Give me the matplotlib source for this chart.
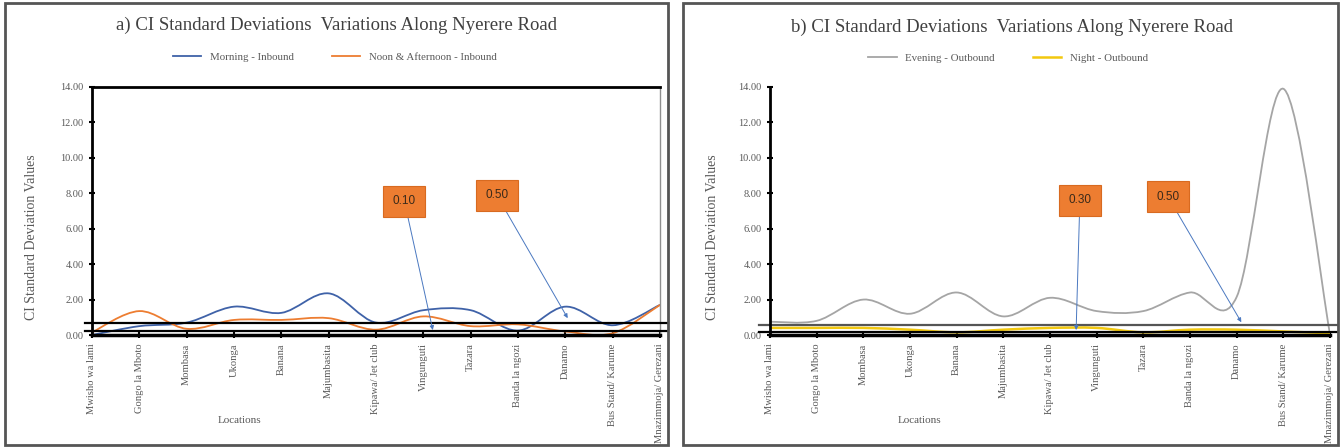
import numpy as np
import matplotlib
matplotlib.use('Agg')
import matplotlib.pyplot as plt
from matplotlib.path import Path
from matplotlib.patches import PathPatch, Rectangle
from matplotlib.lines import Line2D

plt.rcParams['font.family'] = ['Liberation Serif', 'DejaVu Serif']

# Data
locations = ['Mwisho wa lami', 'Gongo la Mboto', 'Mombasa', 'Ukonga', 'Banana',
             'Majumbasita', 'Kipawa/ Jet club', 'Vingunguti', 'Tazara',
             'Banda la ngozi', 'Danamo', 'Bus Stand/ Karume', 'Mnazimmoja/ Gerezani']
morning_in = [0.0, 0.5, 0.7, 1.6, 1.25, 2.35, 0.7, 1.4, 1.4, 0.25, 1.6, 0.55, 1.7]
noon_in = [0.15, 1.35, 0.35, 0.85, 0.85, 0.95, 0.3, 1.05, 0.5, 0.6, 0.2, 0.1, 1.7]
evening_out = [0.75, 0.8, 2.0, 1.2, 2.4, 1.05, 2.1, 1.35, 1.35, 2.4, 2.15, 13.9, 0.05]
night_out = [0.4, 0.4, 0.4, 0.3, 0.15, 0.3, 0.4, 0.4, 0.15, 0.3, 0.3, 0.2, 0.1]
yticks = [0, 2, 4, 6, 8, 10, 12, 14]

GREY = '#595959'


def smooth_line(ax, y, color, lw=1.3, zorder=3):
    # Excel style smoothed line: cubic Bezier through every point
    x = np.arange(len(y), dtype=float)
    y = np.asarray(y, dtype=float)
    pts = np.column_stack([x, y])
    verts = [pts[0]]
    codes = [Path.MOVETO]
    n = len(pts)
    for i in range(n - 1):
        p0 = pts[max(i - 1, 0)]
        p1 = pts[i]
        p2 = pts[i + 1]
        p3 = pts[min(i + 2, n - 1)]
        c1 = p1 + (p2 - p0) / 6.0
        c2 = p2 - (p3 - p1) / 6.0
        verts += [c1, c2, p2]
        codes += [Path.CURVE4] * 3
    ax.add_patch(PathPatch(Path(verts, codes), facecolor='none',
                           edgecolor=color, lw=lw, zorder=zorder))
    return Line2D([], [], color=color, lw=lw)


def style_axes(ax, top_black, right_spine):
    ax.set_xlim(0, len(locations) - 1)
    ax.set_ylim(0, 14)
    ax.set_yticks(yticks)
    ax.set_yticklabels(['%.2f' % v for v in yticks], fontsize=7.5, color=GREY)
    ax.set_xticks(range(len(locations)))
    ax.set_xticklabels(locations, rotation=90, fontsize=7.6, color=GREY,
                       va='top')
    ax.tick_params(axis='both', direction='inout', length=5, width=1.5,
                   color='black')
    ax.spines['left'].set_linewidth(2)
    ax.spines['left'].set_color('black')
    ax.spines['bottom'].set_linewidth(2.5)
    ax.spines['bottom'].set_color('black')
    if top_black:
        ax.spines['top'].set_linewidth(2)
        ax.spines['top'].set_color('black')
    else:
        ax.spines['top'].set_visible(False)
    if right_spine:
        ax.spines['right'].set_color('#909090')
        ax.spines['right'].set_linewidth(1)
    else:
        ax.spines['right'].set_visible(False)
    ax.spines['left'].set_zorder(5)
    ax.spines['bottom'].set_zorder(5)


def callout(ax, text, box_xy, target_xy):
    ax.annotate('', xy=target_xy, xytext=box_xy,
                arrowprops=dict(arrowstyle='-|>', color='#4a78c0', lw=0.7,
                                mutation_scale=6, shrinkA=12, shrinkB=0),
                zorder=6)
    ax.text(box_xy[0], box_xy[1], text, ha='center', va='center', fontsize=8.5,
            family=['Liberation Sans', 'DejaVu Sans'], color='#3a2a1a', zorder=7,
            bbox=dict(boxstyle='square,pad=0.8', fc='#ed7d31', ec='#d86a20', lw=0.8))


fig = plt.figure(figsize=(13.4, 4.48), dpi=100)

# panel frames
fig.patches.append(Rectangle((5 / 1340, 3 / 448), 663 / 1340, 442 / 448,
                             transform=fig.transFigure, fill=False,
                             ec='#555555', lw=2))
fig.patches.append(Rectangle((683 / 1340, 3 / 448), 655 / 1340, 442 / 448,
                             transform=fig.transFigure, fill=False,
                             ec='#555555', lw=2))

# ---------- panel a ----------
ax1 = fig.add_axes([92 / 1340, 113 / 448, 568 / 1340, 248 / 448])
h1 = smooth_line(ax1, morning_in, '#3f62a8')
h2 = smooth_line(ax1, noon_in, '#ed7d31')
style_axes(ax1, True, True)
for yv in [0.68, 0.23]:
    ax1.axhline(yv, xmin=-0.012, xmax=1.012, color='black', lw=1.6,
                clip_on=False, zorder=4)
callout(ax1, '0.10', (6.6, 7.55), (7.2, 0.28))
callout(ax1, '0.50', (8.55, 7.9), (10.05, 0.95))
ax1.legend([h1, h2], ['Morning - Inbound', 'Noon & Afternoon - Inbound'],
           ncol=2, frameon=False, fontsize=7.8, loc='center', handlelength=2.6,
           columnspacing=3.5, labelcolor=GREY,
           bbox_to_anchor=(335 / 1340, 1 - 57 / 448),
           bbox_transform=fig.transFigure)
fig.text(336 / 1340, 1 - 25 / 448,
         'a) CI Standard Deviations  Variations Along Nyerere Road',
         ha='center', va='center', fontsize=13.5, color='#404040')
fig.text(32 / 1340, 1 - 237 / 448, 'CI Standard Deviation Values', rotation=90,
         ha='center', va='center', fontsize=10, color=GREY)
fig.text(240 / 1340, 1 - 420 / 448, 'Locations', ha='center', va='center',
         fontsize=8, color=GREY)

# ---------- panel b ----------
ax2 = fig.add_axes([770 / 1340, 113 / 448, 560 / 1340, 248 / 448])
h3 = smooth_line(ax2, evening_out, '#a5a5a5')
h4 = smooth_line(ax2, night_out, '#f2c80f', lw=1.8)
style_axes(ax2, False, False)
ax2.axhline(0.56, xmin=-0.02, xmax=1.012, color='#555555', lw=1.6,
            clip_on=False, zorder=4)
ax2.axhline(0.17, xmin=-0.02, xmax=1.012, color='black', lw=1.6,
            clip_on=False, zorder=4)
callout(ax2, '0.30', (6.64, 7.6), (6.56, 0.28))
callout(ax2, '0.50', (8.53, 7.8), (10.1, 0.72))
ax2.legend([h3, h4], ['Evening - Outbound', 'Night - Outbound'], ncol=2,
           frameon=False, fontsize=7.8, loc='center', handlelength=2.6,
           columnspacing=3.5, labelcolor=GREY,
           bbox_to_anchor=(1008 / 1340, 1 - 58 / 448),
           bbox_transform=fig.transFigure)
fig.text(1012 / 1340, 1 - 27 / 448,
         'b) CI Standard Deviations  Variations Along Nyerere Road',
         ha='center', va='center', fontsize=13.5, color='#404040')
fig.text(712 / 1340, 1 - 237 / 448, 'CI Standard Deviation Values', rotation=90,
         ha='center', va='center', fontsize=10, color=GREY)
fig.text(920 / 1340, 1 - 420 / 448, 'Locations', ha='center', va='center',
         fontsize=8, color=GREY)

fig.savefig('out.png', dpi=100)
